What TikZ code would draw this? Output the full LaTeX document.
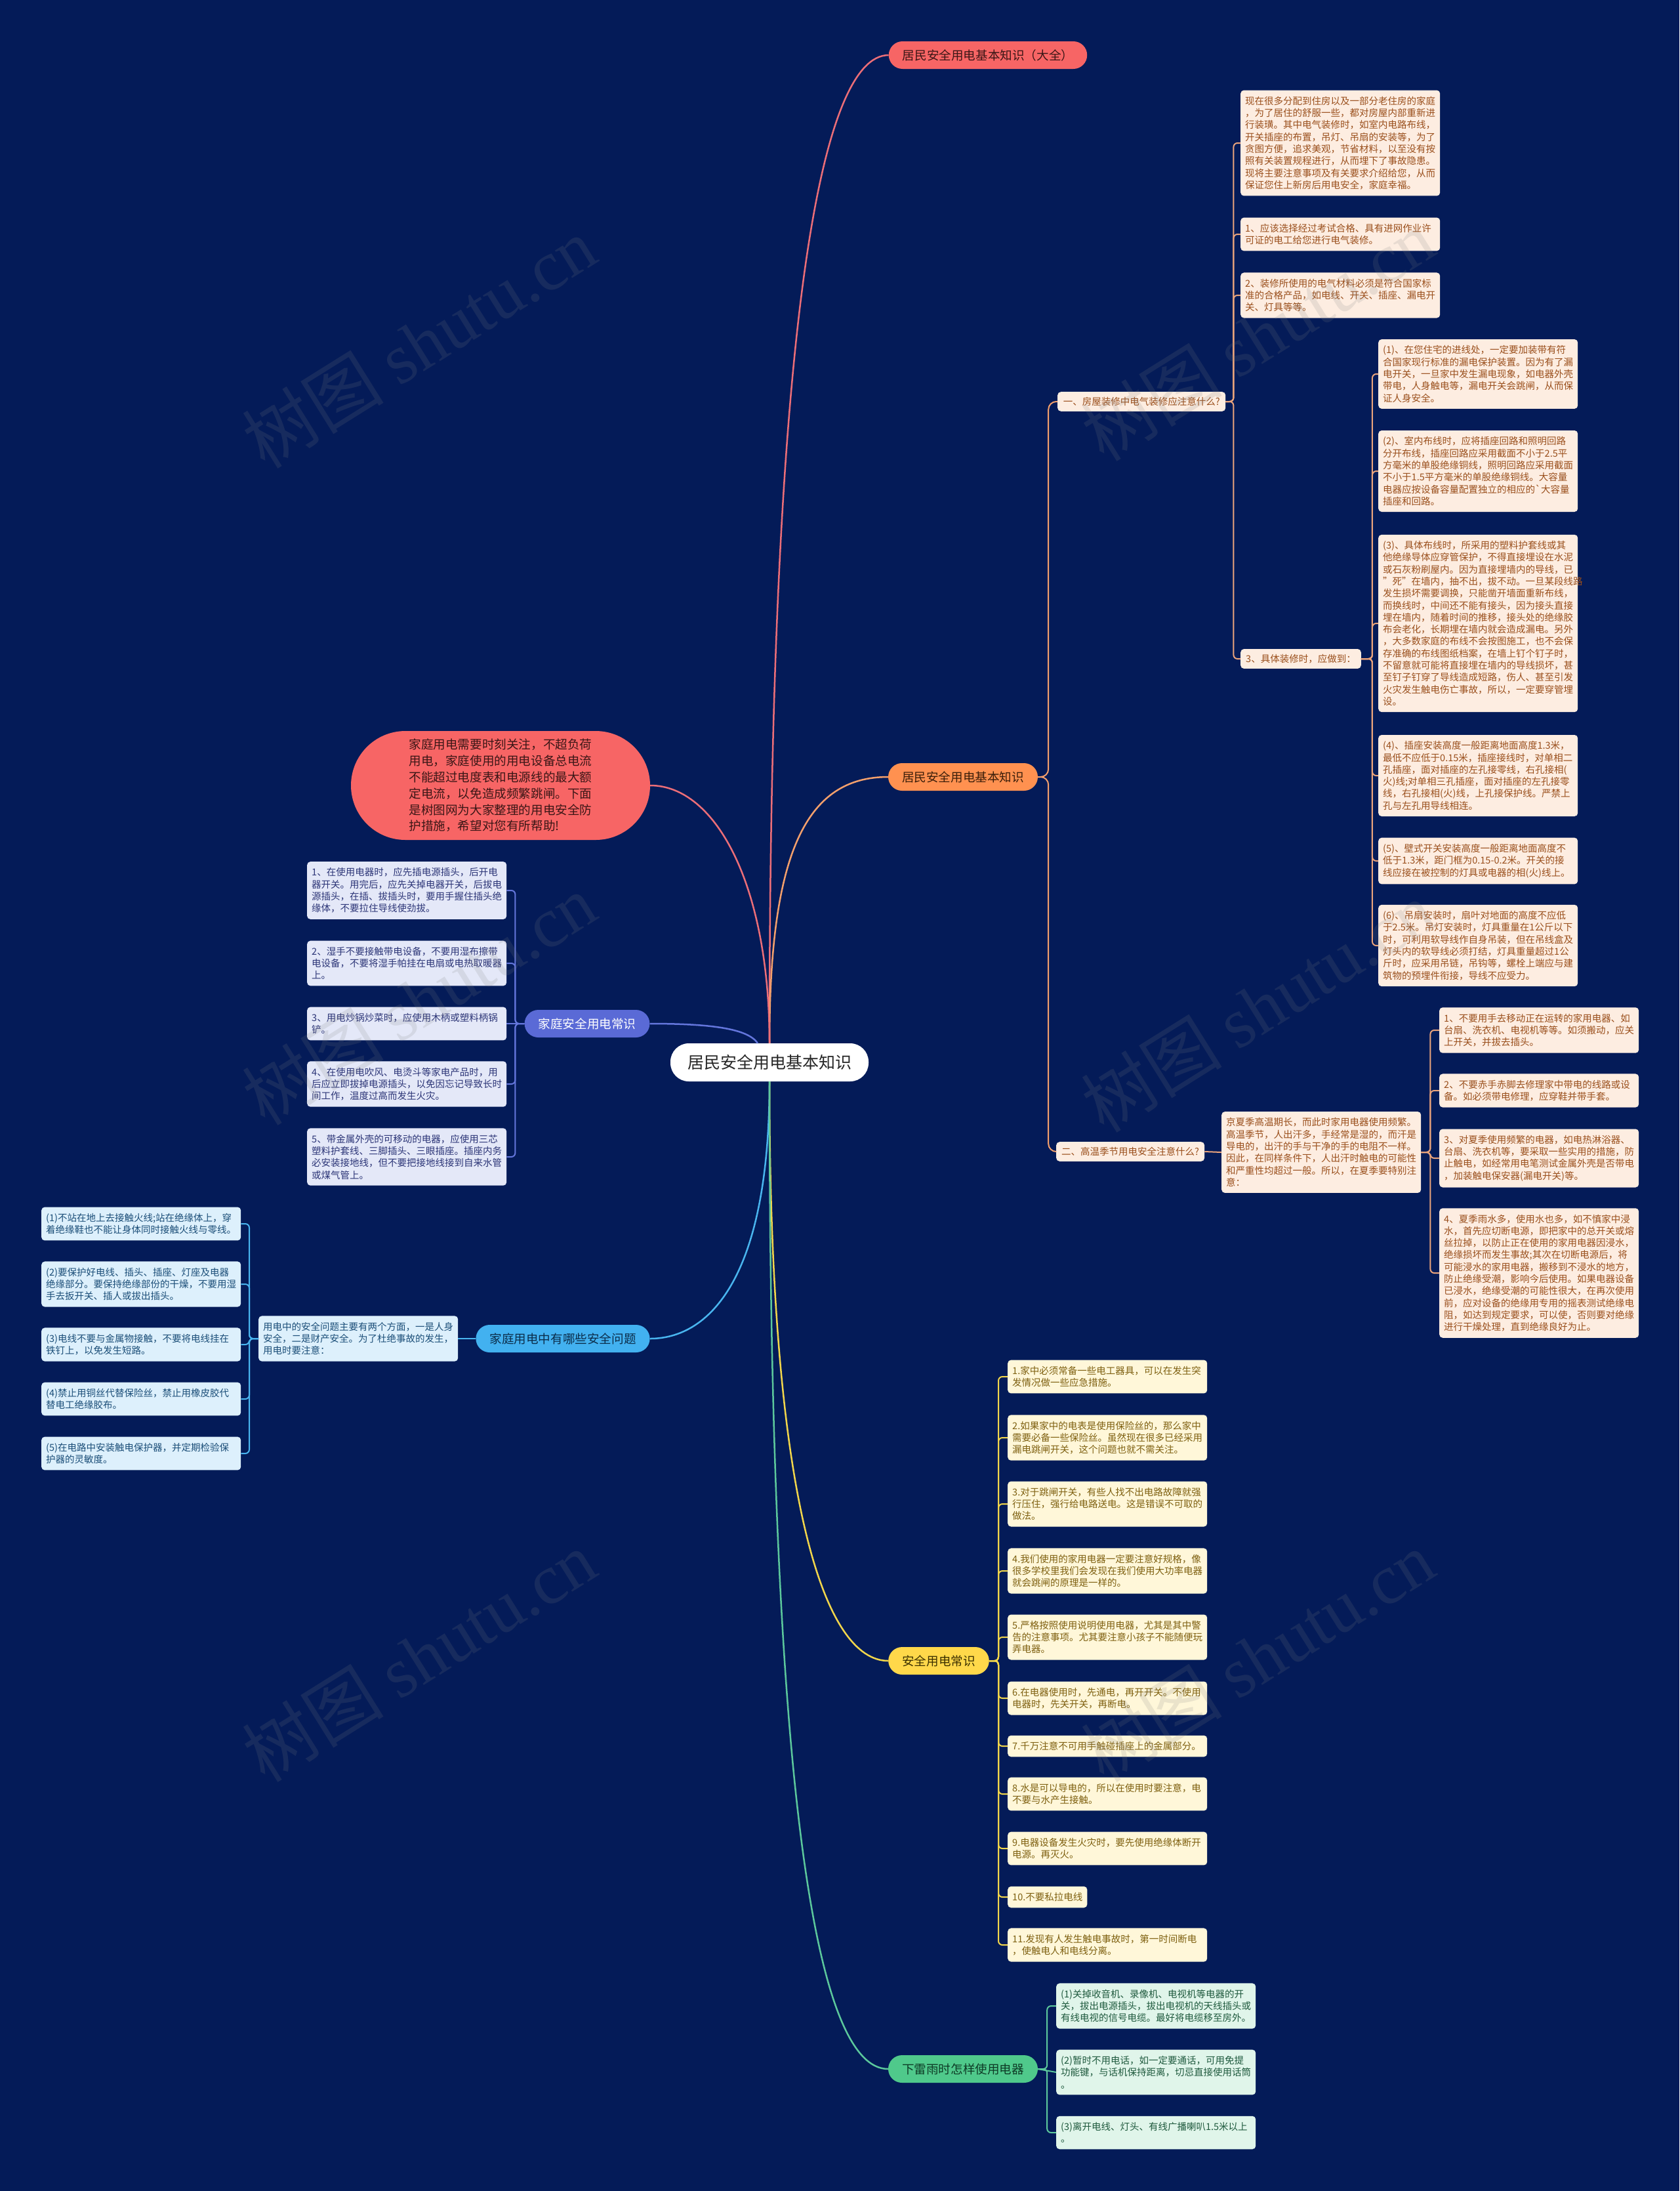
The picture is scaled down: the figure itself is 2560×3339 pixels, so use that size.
\documentclass[tikz,border=0pt]{standalone}
\usepackage{fontspec}
\setmainfont{Noto Sans CJK SC}
\newfontfamily\wmserif{Liberation Serif}

\definecolor{bgnavy}{HTML}{041B58}
\definecolor{redfill}{HTML}{F76565}
\definecolor{redtext}{HTML}{3A1616}
\definecolor{redline}{HTML}{EC6E78}
\definecolor{orangefill}{HTML}{FF9150}
\definecolor{orangetext}{HTML}{3A1E0A}
\definecolor{orangeline}{HTML}{F4A06C}
\definecolor{peachfill}{HTML}{FDEDE1}
\definecolor{peachtext}{HTML}{9A4F1C}
\definecolor{peachline}{HTML}{EBA47C}
\definecolor{yellowfill}{HTML}{FFD84A}
\definecolor{yellowtext}{HTML}{3B3000}
\definecolor{yellowline}{HTML}{F2D64B}
\definecolor{creamfill}{HTML}{FFF7D9}
\definecolor{creamtext}{HTML}{7E6010}
\definecolor{greenfill}{HTML}{4FC98B}
\definecolor{greentext}{HTML}{0E3B26}
\definecolor{greenline}{HTML}{5CC89C}
\definecolor{mintfill}{HTML}{E0F5EA}
\definecolor{minttext}{HTML}{1F5A3E}
\definecolor{bluefill}{HTML}{5A6AD6}
\definecolor{blueline}{HTML}{6476DC}
\definecolor{lavfill}{HTML}{E4E8F8}
\definecolor{lavtext}{HTML}{2C3577}
\definecolor{skyfill}{HTML}{42B1F0}
\definecolor{skytext}{HTML}{0B2D4A}
\definecolor{skyline}{HTML}{49B5EF}
\definecolor{icefill}{HTML}{DDF0FC}
\definecolor{icetext}{HTML}{1B4E78}

\newcommand\leaffont{\fontsize{14.5}{18.3}\selectfont}
\newcommand\topicfont{\fontsize{18.6}{24.8}\selectfont}

\tikzset{
	rootbox/.style={rectangle, rounded corners=28pt, fill=white, text=black!85, minimum height=58pt, inner xsep=26pt, font=\fontsize{25}{30}\selectfont},
	topicbox/.style={rectangle, rounded corners=21pt, minimum height=42pt, inner xsep=21pt, inner ysep=0pt, font=\topicfont},
	introbox/.style={rectangle, rounded corners=83pt, minimum width=456pt, minimum height=166pt, align=left, fill=redfill, text=redtext, font=\topicfont},
	labelbox/.style={rectangle, rounded corners=5pt, inner xsep=8pt, inner ysep=8pt, anchor=west, font=\leaffont, fill=peachfill, text=peachtext},
	leafbox/.style={rectangle, rounded corners=5pt, inner xsep=7pt, inner ysep=9.5pt, anchor=west, align=left, font=\leaffont},
	widebox/.style={text width=290pt},
	leafB/.style={leafbox, widebox, fill=peachfill, text=peachtext},
	leafC/.style={leafbox, widebox, fill=creamfill, text=creamtext},
	leafD/.style={leafbox, widebox, fill=mintfill, text=minttext},
	leafF/.style={leafbox, widebox, fill=lavfill, text=lavtext},
	leafG/.style={leafbox, widebox, fill=icefill, text=icetext},
	mainlink/.style={line width=2.5pt},
	twiglink/.style={line width=2pt, rounded corners=6pt},
	watermark/.style={rotate=32, text=gray, opacity=0.16, font=\fontsize{108}{108}\selectfont}
}

\begin{document}
\begin{tikzpicture}[x=1pt, y=-1pt]
	\fill[bgnavy] (0,0) rectangle (2560,3339);
	\useasboundingbox (0,0) rectangle (2560,3339);
	\node[rootbox] (root) at (1173, 1619){居民安全用电基本知识};
	\node[topicbox, fill=redfill, text=redtext] (full) at (1506, 84){居民安全用电基本知识（大全）};
	\node[topicbox, fill=orangefill, text=orangetext] (basic) at (1468, 1184){居民安全用电基本知识};
	\node[topicbox, fill=yellowfill, text=yellowtext] (common) at (1431, 2531){安全用电常识};
	\node[topicbox, fill=greenfill, text=greentext] (storm) at (1468, 3153){下雷雨时怎样使用电器};
	\node[introbox] (intro) at (763, 1197){家庭用电需要时刻关注，不超负荷\\用电，家庭使用的用电设备总电流\\不能超过电度表和电源线的最大额\\定电流，以免造成频繁跳闸。下面\\是树图网为大家整理的用电安全防\\护措施，希望对您有所帮助!};
	\node[topicbox, fill=bluefill, text=white] (home) at (895, 1560){家庭安全用电常识};
	\node[topicbox, fill=skyfill, text=skytext] (issues) at (858, 2040){家庭用电中有哪些安全问题};

	\node[labelbox, minimum width=256pt] (decor) at (1612, 612){一、房屋装修中电气装修应注意什么?};
	\node[labelbox, minimum width=224pt] (summer) at (1610, 1755){二、高温季节用电安全注意什么?};

	\node[leafB] (d1) at (1891, 218){现在很多分配到住房以及一部分老住房的家庭\\，为了居住的舒服一些，都对房屋内部重新进\\行装璜。其中电气装修时，如室内电路布线，\\开关插座的布置，吊灯、吊扇的安装等，为了\\贪图方便，追求美观，节省材料，以至没有按\\照有关装置规程进行，从而埋下了事故隐患。\\现将主要注意事项及有关要求介绍给您，从而\\保证您住上新房后用电安全，家庭幸福。};
	\node[leafB] (d2) at (1891, 357){1、应该选择经过考试合格、具有进网作业许\\可证的电工给您进行电气装修。};
	\node[leafB] (d3) at (1891, 450){2、装修所使用的电气材料必须是符合国家标\\准的合格产品，如电线、开关、插座、漏电开\\关、灯具等等。};
	\node[labelbox, minimum width=179pt] (d4) at (1891, 1004){3、具体装修时，应做到：};

	\node[leafB] (w1) at (2101, 570){(1)、在您住宅的进线处，一定要加装带有符\\合国家现行标准的漏电保护装置。因为有了漏\\电开关，一旦家中发生漏电现象，如电器外壳\\带电，人身触电等，漏电开关会跳闸，从而保\\证人身安全。};
	\node[leafB] (w2) at (2101, 718){(2)、室内布线时，应将插座回路和照明回路\\分开布线，插座回路应采用截面不小于2.5平\\方毫米的单股绝缘铜线，照明回路应采用截面\\不小于1.5平方毫米的单股绝缘铜线。大容量\\电器应按设备容量配置独立的相应的\textasciigrave 大容量\\插座和回路。};
	\node[leafB] (w3) at (2101, 950){(3)、具体布线时，所采用的塑料护套线或其\\他绝缘导体应穿管保护，不得直接埋设在水泥\\或石灰粉刷屋内。因为直接埋墙内的导线，已\\"死"在墙内，抽不出，拔不动。一旦某段线路\\发生损坏需要调换，只能凿开墙面重新布线，\\而换线时，中间还不能有接头，因为接头直接\\埋在墙内，随着时间的推移，接头处的绝缘胶\\布会老化，长期埋在墙内就会造成漏电。另外\\，大多数家庭的布线不会按图施工，也不会保\\存准确的布线图纸档案，在墙上钉个钉子时，\\不留意就可能将直接埋在墙内的导线损坏，甚\\至钉子钉穿了导线造成短路，伤人、甚至引发\\火灾发生触电伤亡事故，所以，一定要穿管埋\\设。};
	\node[leafB] (w4) at (2101, 1182){(4)、插座安装高度一般距离地面高度1.3米，\\最低不应低于0.15米，插座接线时，对单相二\\孔插座，面对插座的左孔接零线，右孔接相(\\火)线;对单相三孔插座，面对插座的左孔接零\\线，右孔接相(火)线，上孔接保护线。严禁上\\孔与左孔用导线相连。};
	\node[leafB] (w5) at (2101, 1312){(5)、壁式开关安装高度一般距离地面高度不\\低于1.3米，距门框为0.15-0.2米。开关的接\\线应接在被控制的灯具或电器的相(火)线上。};
	\node[leafB] (w6) at (2101, 1441){(6)、吊扇安装时，扇叶对地面的高度不应低\\于2.5米。吊灯安装时，灯具重量在1公斤以下\\时，可利用软导线作自身吊装，但在吊线盒及\\灯头内的软导线必须打结，灯具重量超过1公\\斤时，应采用吊链，吊钩等，螺栓上端应与建\\筑物的预埋件衔接，导线不应受力。};

	\node[leafB] (hot) at (1862, 1756){京夏季高温期长，而此时家用电器使用频繁。\\高温季节，人出汗多，手经常是湿的，而汗是\\导电的，出汗的手与干净的手的电阻不一样。\\因此，在同样条件下，人出汗时触电的可能性\\和严重性均超过一般。所以，在夏季要特别注\\意：};
	\node[leafB] (s1) at (2194, 1570){1、不要用手去移动正在运转的家用电器、如\\台扇、洗衣机、电视机等等。如须搬动，应关\\上开关，并拔去插头。};
	\node[leafB] (s2) at (2194, 1662){2、不要赤手赤脚去修理家中带电的线路或设\\备。如必须带电修理，应穿鞋并带手套。};
	\node[leafB] (s3) at (2194, 1765){3、对夏季使用频繁的电器，如电热淋浴器、\\台扇、洗衣机等，要采取一些实用的措施，防\\止触电，如经常用电笔测试金属外壳是否带电\\，加装触电保安器(漏电开关)等。};
	\node[leafB] (s4) at (2194, 1940){4、夏季雨水多，使用水也多，如不慎家中浸\\水，首先应切断电源，即把家中的总开关或熔\\丝拉掉，以防止正在使用的家用电器因浸水，\\绝缘损坏而发生事故;其次在切断电源后，将\\可能浸水的家用电器，搬移到不浸水的地方，\\防止绝缘受潮，影响今后使用。如果电器设备\\已浸水，绝缘受潮的可能性很大，在再次使用\\前，应对设备的绝缘用专用的摇表测试绝缘电\\阻，如达到规定要求，可以使，否则要对绝缘\\进行干燥处理，直到绝缘良好为止。};

	\node[leafC] (c1) at (1536, 2098){1.家中必须常备一些电工器具，可以在发生突\\发情况做一些应急措施。};
	\node[leafC] (c2) at (1536, 2191){2.如果家中的电表是使用保险丝的，那么家中\\需要必备一些保险丝。虽然现在很多已经采用\\漏电跳闸开关，这个问题也就不需关注。};
	\node[leafC] (c3) at (1536, 2292){3.对于跳闸开关，有些人找不出电路故障就强\\行压住，强行给电路送电。这是错误不可取的\\做法。};
	\node[leafC] (c4) at (1536, 2394){4.我们使用的家用电器一定要注意好规格，像\\很多学校里我们会发现在我们使用大功率电器\\就会跳闸的原理是一样的。};
	\node[leafC] (c5) at (1536, 2495){5.严格按照使用说明使用电器，尤其是其中警\\告的注意事项。尤其要注意小孩子不能随便玩\\弄电器。};
	\node[leafC] (c6) at (1536, 2588){6.在电器使用时，先通电，再开开关。不使用\\电器时，先关开关，再断电。};
	\node[leafC] (c7) at (1536, 2661){7.千万注意不可用手触碰插座上的金属部分。};
	\node[leafC] (c8) at (1536, 2734){8.水是可以导电的，所以在使用时要注意，电\\不要与水产生接触。};
	\node[leafC] (c9) at (1536, 2817){9.电器设备发生火灾时，要先使用绝缘体断开\\电源。再灭火。};
	\node[leafbox, fill=creamfill, text=creamtext] (c10) at (1536, 2891){10.不要私拉电线};
	\node[leafC] (c11) at (1536, 2964){11.发现有人发生触电事故时，第一时间断电\\，使触电人和电线分离。};

	\node[leafD] (r1) at (1610, 3057){(1)关掉收音机、录像机、电视机等电器的开\\关，拔出电源插头，拔出电视机的天线插头或\\有线电视的信号电缆。最好将电缆移至房外。};
	\node[leafD] (r2) at (1610, 3158){(2)暂时不用电话，如一定要通话，可用免提\\功能键，与话机保持距离，切忌直接使用话筒\\。};
	\node[leafD] (r3) at (1610, 3250){(3)离开电线、灯头、有线广播喇叭1.5米以上\\。};

	\node[leafF] (h1) at (468, 1357){1、在使用电器时，应先插电源插头，后开电\\器开关。用完后，应先关掉电器开关，后拔电\\源插头，在插、拔插头时，要用手握住插头绝\\缘体，不要拉住导线使劲拔。};
	\node[leafF] (h2) at (468, 1468){2、湿手不要接触带电设备，不要用湿布擦带\\电设备，不要将湿手帕挂在电扇或电热取暖器\\上。};
	\node[leafF] (h3) at (468, 1560){3、用电炒锅炒菜时，应使用木柄或塑料柄锅\\铲。};
	\node[leafF] (h4) at (468, 1652){4、在使用电吹风、电烫斗等家电产品时，用\\后应立即拔掉电源插头，以免因忘记导致长时\\间工作，温度过高而发生火灾。};
	\node[leafF] (h5) at (468, 1763){5、带金属外壳的可移动的电器，应使用三芯\\塑料护套线、三脚插头、三眼插座。插座内务\\必安装接地线，但不要把接地线接到自来水管\\或煤气管上。};

	\node[leafG] (aspects) at (394, 2040){用电中的安全问题主要有两个方面，一是人身\\安全，二是财产安全。为了杜绝事故的发生，\\用电时要注意：};
	\node[leafG] (p1) at (63, 1865){(1)不站在地上去接触火线;站在绝缘体上，穿\\着绝缘鞋也不能让身体同时接触火线与零线。};
	\node[leafG] (p2) at (63, 1957){(2)要保护好电线、插头、插座、灯座及电器\\绝缘部分。要保持绝缘部份的干燥，不要用湿\\手去扳开关、插人或拔出插头。};
	\node[leafG] (p3) at (63, 2049){(3)电线不要与金属物接触，不要将电线挂在\\铁钉上，以免发生短路。};
	\node[leafG] (p4) at (63, 2132){(4)禁止用铜丝代替保险丝，禁止用橡皮胶代\\替电工绝缘胶布。};
	\node[leafG] (p5) at (63, 2215){(5)在电路中安装触电保护器，并定期检验保\\护器的灵敏度。};

	\draw[mainlink, redline] (root.north) .. controls +(0,-1089) and +(-105,0) .. (full.west);
	\draw[mainlink, orangeline] (root.north) .. controls +(0,-290) and +(-125,0) .. (basic.west);
	\draw[mainlink, redline] (root.north) .. controls +(0,-240) and +(100,0) .. (intro.east);
	\draw[mainlink, blueline] ([xshift=-18pt]root.north) .. controls +(-15,-22) and +(95,0) .. (home.east);
	\draw[mainlink, skyline] (root.south) .. controls +(0,300) and +(90,0) .. (issues.east);
	\draw[mainlink, yellowline] (root.south) .. controls +(0,650) and +(-95,0) .. (common.west);
	\draw[mainlink, greenline] (root.south) .. controls +(0,1050) and +(-115,0) .. (storm.west);

	\draw[twiglink, orangeline, rounded corners=12pt] (basic.east) -- ++(16,0) |- (decor.west);
	\draw[twiglink, orangeline, rounded corners=12pt] (basic.east) -- ++(16,0) |- (summer.west);
	\draw[twiglink, peachline] (decor.east) -- ++(12,0) |- (d1.west);
	\draw[twiglink, peachline] (decor.east) -- ++(12,0) |- (d2.west);
	\draw[twiglink, peachline] (decor.east) -- ++(12,0) |- (d3.west);
	\draw[twiglink, peachline] (decor.east) -- ++(12,0) |- (d4.west);
	\draw[twiglink, peachline] (d4.east) -- ++(17,0) |- (w1.west);
	\draw[twiglink, peachline] (d4.east) -- ++(17,0) |- (w2.west);
	\draw[twiglink, peachline] (d4.east) -- ++(17,0) |- (w3.west);
	\draw[twiglink, peachline] (d4.east) -- ++(17,0) |- (w4.west);
	\draw[twiglink, peachline] (d4.east) -- ++(17,0) |- (w5.west);
	\draw[twiglink, peachline] (d4.east) -- ++(17,0) |- (w6.west);
	\draw[twiglink, peachline] (summer.east) -- (hot.west);
	\draw[twiglink, peachline] (hot.east) -- ++(14,0) |- (s1.west);
	\draw[twiglink, peachline] (hot.east) -- ++(14,0) |- (s2.west);
	\draw[twiglink, peachline] (hot.east) -- ++(14,0) |- (s3.west);
	\draw[twiglink, peachline] (hot.east) -- ++(14,0) |- (s4.west);

	\draw[twiglink, yellowline] (common.east) -- ++(14,0) |- (c1.west);
	\draw[twiglink, yellowline] (common.east) -- ++(14,0) |- (c2.west);
	\draw[twiglink, yellowline] (common.east) -- ++(14,0) |- (c3.west);
	\draw[twiglink, yellowline] (common.east) -- ++(14,0) |- (c4.west);
	\draw[twiglink, yellowline] (common.east) -- ++(14,0) |- (c5.west);
	\draw[twiglink, yellowline] (common.east) -- ++(14,0) |- (c6.west);
	\draw[twiglink, yellowline] (common.east) -- ++(14,0) |- (c7.west);
	\draw[twiglink, yellowline] (common.east) -- ++(14,0) |- (c8.west);
	\draw[twiglink, yellowline] (common.east) -- ++(14,0) |- (c9.west);
	\draw[twiglink, yellowline] (common.east) -- ++(14,0) |- (c10.west);
	\draw[twiglink, yellowline] (common.east) -- ++(14,0) |- (c11.west);

	\draw[twiglink, greenline] (storm.east) -- ++(14,0) |- (r1.west);
	\draw[twiglink, greenline] (storm.east) -- (r2.west);
	\draw[twiglink, greenline] (storm.east) -- ++(14,0) |- (r3.west);

	\draw[twiglink, blueline] (home.west) -- ++(-14,0) |- (h1.east);
	\draw[twiglink, blueline] (home.west) -- ++(-14,0) |- (h2.east);
	\draw[twiglink, blueline] (home.west) -- (h3.east);
	\draw[twiglink, blueline] (home.west) -- ++(-14,0) |- (h4.east);
	\draw[twiglink, blueline] (home.west) -- ++(-14,0) |- (h5.east);

	\draw[twiglink, skyline] (issues.west) -- (aspects.east);
	\draw[twiglink, skyline] (aspects.west) -- ++(-14,0) |- (p1.east);
	\draw[twiglink, skyline] (aspects.west) -- ++(-14,0) |- (p2.east);
	\draw[twiglink, skyline] (aspects.west) -- ++(-14,0) |- (p3.east);
	\draw[twiglink, skyline] (aspects.west) -- ++(-14,0) |- (p4.east);
	\draw[twiglink, skyline] (aspects.west) -- ++(-14,0) |- (p5.east);

	\node[watermark] (wm1) at (639, 522){树图 {\wmserif shutu.cn}};
	\node[watermark] (wm2) at (1917, 511){树图 {\wmserif shutu.cn}};
	\node[watermark] (wm3) at (639, 1523){树图 {\wmserif shutu.cn}};
	\node[watermark] (wm4) at (1917, 1534){树图 {\wmserif shutu.cn}};
	\node[watermark] (wm5) at (639, 2524){树图 {\wmserif shutu.cn}};
	\node[watermark] (wm6) at (1917, 2524){树图 {\wmserif shutu.cn}};
\end{tikzpicture}
\end{document}
